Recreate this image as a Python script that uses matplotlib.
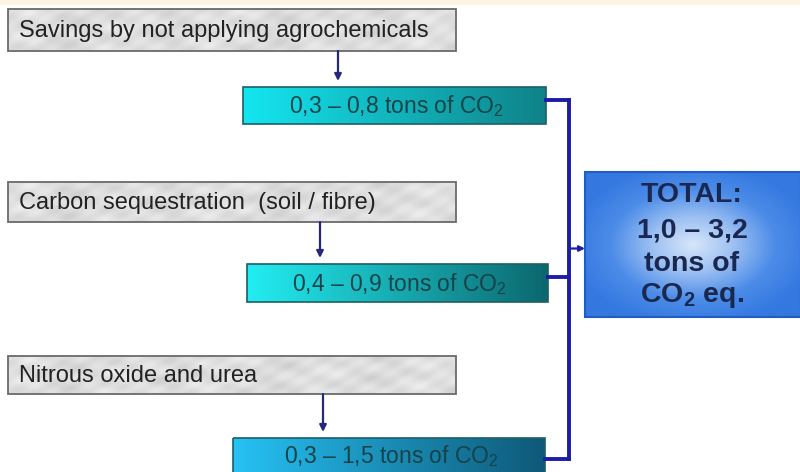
import matplotlib
matplotlib.use('Agg')
import matplotlib.pyplot as plt
import numpy as np
from matplotlib.colors import LinearSegmentedColormap
from matplotlib.patches import Rectangle

plt.rcParams['font.family'] = ['Liberation Sans', 'DejaVu Sans']
plt.rcParams['mathtext.fontset'] = 'custom'
plt.rcParams['mathtext.rm'] = 'Liberation Sans'
plt.rcParams['mathtext.it'] = 'Liberation Sans'
plt.rcParams['mathtext.bf'] = 'Liberation Sans:bold'

# data
sources = ['Savings by not applying agrochemicals',
           'Carbon sequestration  (soil / fibre)',
           'Nitrous oxide and urea']
low = [0.3, 0.4, 0.3]
high = [0.8, 0.9, 1.5]

# layout (pixels, y downwards)
gray_x = (8, 456)
gray_y = [(9, 51), (182, 222), (356, 394)]
cyan_x = [(243, 546), (247, 548), (233, 545)]
cyan_y = [(87, 124), (264, 302), (438, 476)]
arrow_x = [338, 320, 323]
join_y = [100, 277, 459]
bus_x = 569
total_box = (585, 801, 172, 317)
cyan_colors = [('#14e6f0', '#0f8288'), ('#22eef2', '#0c676e'), ('#26c2f4', '#0f5878')]


def fmt(v):
    return ('%.1f' % v).replace('.', ',')


def gradient_box(ax, x0, x1, y0, y1, c_left, c_right, edge):
    cmap = LinearSegmentedColormap.from_list('g', [c_left, c_right])
    grad = np.linspace(0, 1, 256).reshape(1, -1)
    ax.imshow(grad, cmap=cmap, extent=[x0, x1, y1, y0], origin='upper',
              aspect='auto', zorder=2)
    ax.add_patch(Rectangle((x0, y0), x1 - x0, y1 - y0, fill=False,
                           edgecolor=edge, lw=1.2, zorder=3))


def gray_box(ax, x0, x1, y0, y1):
    # soft marble-like shading
    xx, yy = np.meshgrid(np.linspace(0, 12, 300), np.linspace(0, 2, 40))
    tex = 0.87 + 0.025 * np.sin(xx * 1.7 + yy * 3.1) * np.cos(xx * 0.6 - yy * 2.3) \
        + 0.02 * np.sin(xx * 4.3 - yy * 5.0) + 0.015 * np.cos(xx * 9.1 + yy * 7.7)
    ax.imshow(tex, cmap='gray', vmin=0, vmax=1, extent=[x0, x1, y1, y0],
              origin='upper', aspect='auto', zorder=2)
    ax.add_patch(Rectangle((x0, y0), x1 - x0, y1 - y0, fill=False,
                           edgecolor='#6a6a6a', lw=1.3, zorder=3))


fig = plt.figure(figsize=(8, 4.72), dpi=100)
ax = fig.add_axes([0, 0, 1, 1])
ax.set_xlim(0, 800)
ax.set_ylim(472, 0)
ax.axis('off')

ax.add_patch(Rectangle((0, 0), 800, 5, color='#fdf3e2', lw=0, zorder=1))

for i in range(3):
    gy0, gy1 = gray_y[i]
    gray_box(ax, gray_x[0], gray_x[1], gy0, gy1)
    ax.text(gray_x[0] + 11, (gy0 + gy1) / 2 + 1, sources[i], fontsize=17,
            color='#222222', va='center', ha='left', zorder=4)

    ax.annotate('', xy=(arrow_x[i], cyan_y[i][0] - 6), xytext=(arrow_x[i], gy1),
                arrowprops=dict(arrowstyle='-|>', color='#28287a', lw=1.6,
                                mutation_scale=10, shrinkA=0, shrinkB=0), zorder=4)

    cx0, cx1 = cyan_x[i]
    cy0, cy1 = cyan_y[i]
    gradient_box(ax, cx0, cx1, cy0, cy1, cyan_colors[i][0], cyan_colors[i][1], '#1d5f66')
    label = '%s \u2013 %s tons of CO$_2$' % (fmt(low[i]), fmt(high[i]))
    ax.text((cx0 + cx1) / 2 + 2, (cy0 + min(cy1, 472)) / 2 + 1, label, fontsize=16.5,
            color='#15434a', ha='center', va='center', zorder=4)

    ax.plot([cx1, bus_x], [join_y[i], join_y[i]], color='#1c1ca6', lw=2.8,
            solid_capstyle='projecting', zorder=3)

ax.plot([bus_x, bus_x], [join_y[0], join_y[-1]], color='#1c1ca6', lw=2.8,
        solid_capstyle='projecting', zorder=3)

tx0, tx1, ty0, ty1 = total_box
ax.annotate('', xy=(tx0, (ty0 + ty1) / 2 + 4), xytext=(bus_x, (ty0 + ty1) / 2 + 4),
            arrowprops=dict(arrowstyle='-|>', color='#1c1ca6', lw=1.6,
                            mutation_scale=8, shrinkA=0, shrinkB=0), zorder=4)

# total box with radial gradient
gx, gy = np.meshgrid(np.linspace(-1, 1, 200), np.linspace(-1, 1, 140))
r = np.clip(np.sqrt(gx ** 2 + gy ** 2) / 1.15, 0, 1)
cmap_t = LinearSegmentedColormap.from_list('t', ['#d6e6fa', '#9cc0f2', '#4c8ce8', '#3478e0'])
ax.imshow(r, cmap=cmap_t, vmin=0, vmax=1, extent=[tx0, tx1, ty1, ty0],
          origin='upper', aspect='auto', zorder=2)
ax.add_patch(Rectangle((tx0, ty0), tx1 - tx0, ty1 - ty0, fill=False,
                       edgecolor='#1f5cc4', lw=1.5, zorder=3))

total_low = sum(low)
total_high = sum(high)
total_lines = ['TOTAL:', '%s \u2013 %s' % (fmt(total_low), fmt(total_high)),
               'tons of', 'CO$_\\mathbf{2}$ eq.']
line_y = [195, 231, 264, 296]
for txt, yy in zip(total_lines, line_y):
    ax.text((tx0 + tx1) / 2 - 1, yy, txt, fontsize=20.5, fontweight='bold',
            color='#1a2850', ha='center', va='center', zorder=4)

fig.savefig('out.png', dpi=100)
